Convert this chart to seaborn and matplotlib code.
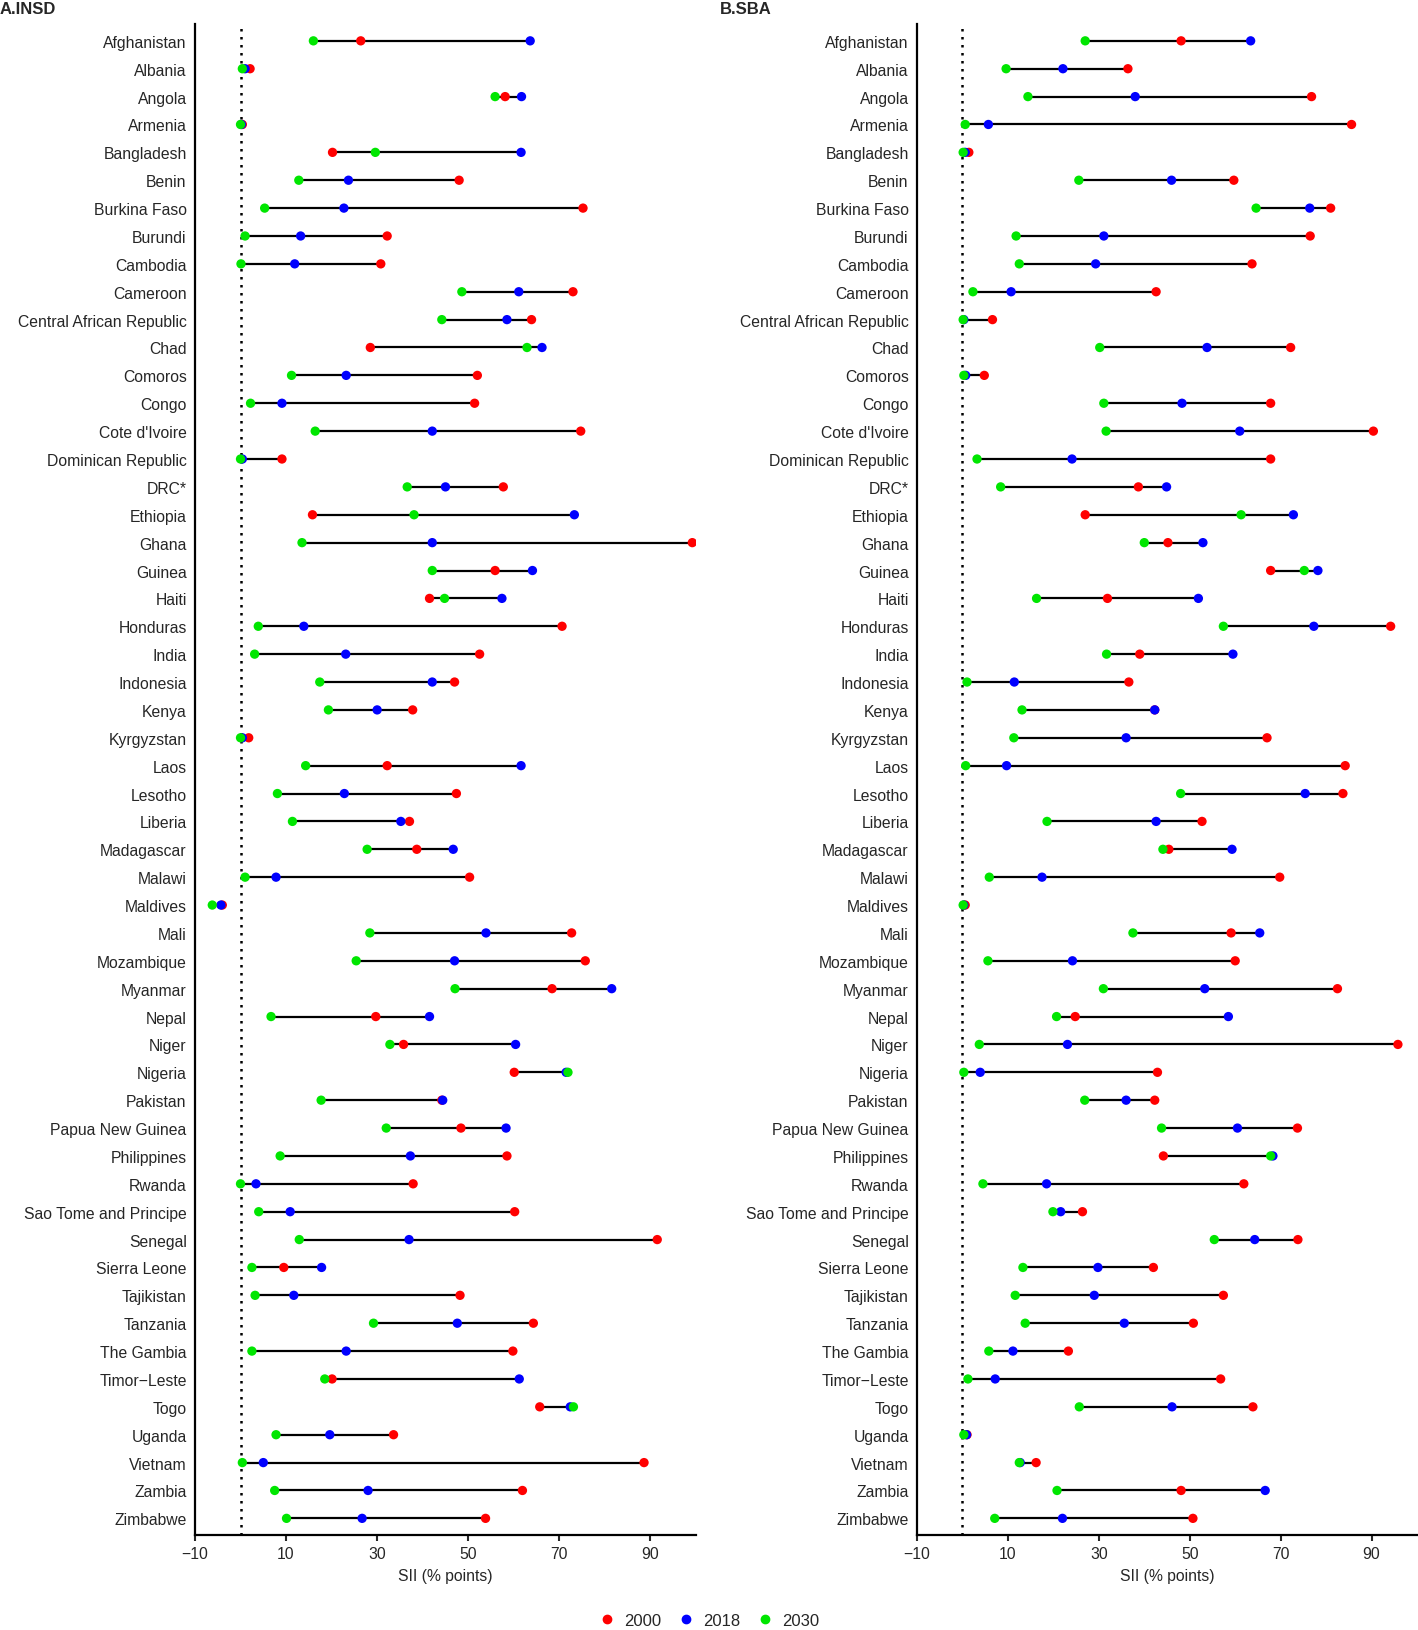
import matplotlib
matplotlib.use('Agg')
import matplotlib.pyplot as plt
from matplotlib.lines import Line2D
import pandas as pd
import seaborn as sns

countries = ['Afghanistan', 'Albania', 'Angola', 'Armenia', 'Bangladesh', 'Benin', 'Burkina Faso',
             'Burundi', 'Cambodia', 'Cameroon', 'Central African Republic', 'Chad', 'Comoros', 'Congo',
             "Cote d'Ivoire", 'Dominican Republic', 'DRC*', 'Ethiopia', 'Ghana', 'Guinea', 'Haiti',
             'Honduras', 'India', 'Indonesia', 'Kenya', 'Kyrgyzstan', 'Laos', 'Lesotho', 'Liberia',
             'Madagascar', 'Malawi', 'Maldives', 'Mali', 'Mozambique', 'Myanmar', 'Nepal', 'Niger',
             'Nigeria', 'Pakistan', 'Papua New Guinea', 'Philippines', 'Rwanda', 'Sao Tome and Principe',
             'Senegal', 'Sierra Leone', 'Tajikistan', 'Tanzania', 'The Gambia', 'Timor\u2212Leste', 'Togo',
             'Uganda', 'Vietnam', 'Zambia', 'Zimbabwe']

# A. INSD
insd_2000 = [26.4, 2.1, 58.1, 0.4, 20.2, 48.0, 75.2, 32.2, 30.8, 73.0, 63.9, 28.5, 52.0, 51.4,
             74.7, 9.1, 57.7, 15.8, 99.2, 55.9, 41.5, 70.6, 52.5, 47.0, 37.8, 1.8, 32.2, 47.4, 37.1,
             38.7, 50.3, -4.0, 72.7, 75.7, 68.4, 29.7, 35.8, 60.1, 44.2, 48.4, 58.5, 37.9, 60.2,
             91.5, 9.5, 48.2, 64.3, 59.8, 20.1, 65.7, 33.6, 88.6, 61.9, 53.8]
insd_2018 = [63.6, 1.0, 61.7, 0.2, 61.6, 23.7, 22.7, 13.2, 11.9, 61.1, 58.5, 66.2, 23.2, 9.1,
             42.1, 0.4, 45.0, 73.3, 42.1, 64.1, 57.4, 13.9, 23.1, 42.1, 30.0, 0.4, 61.6, 22.8, 35.2,
             46.7, 7.8, -4.3, 53.9, 47.0, 81.5, 41.5, 60.4, 71.5, 44.4, 58.3, 37.3, 3.4, 10.9,
             37.0, 17.8, 11.7, 47.6, 23.2, 61.2, 72.4, 19.6, 5.0, 28.0, 26.7]
insd_2030 = [16.0, 0.4, 55.9, 0.0, 29.6, 12.8, 5.3, 1.0, 0.1, 48.6, 44.2, 62.9, 11.2, 2.2,
             16.4, 0.0, 36.6, 38.1, 13.5, 42.1, 44.8, 3.9, 3.1, 17.4, 19.3, 0.0, 14.3, 8.1, 11.4,
             27.8, 1.0, -6.2, 28.4, 25.4, 47.1, 6.7, 32.8, 71.9, 17.7, 32.0, 8.7, 0.0, 4.0,
             12.9, 2.5, 3.2, 29.2, 2.5, 18.5, 73.1, 7.8, 0.4, 7.5, 10.1]

# B. SBA
sba_2000 = [48.1, 36.4, 76.8, 85.6, 1.4, 59.7, 81.0, 76.5, 63.7, 42.6, 6.6, 72.2, 4.8, 67.8,
            90.4, 67.8, 38.7, 27.0, 45.2, 67.8, 31.9, 94.2, 39.0, 36.6, 42.3, 67.0, 84.2, 83.7, 52.7,
            45.4, 69.8, 0.6, 59.1, 60.0, 82.5, 24.8, 95.8, 42.9, 42.3, 73.7, 44.2, 61.9, 26.4,
            73.8, 42.0, 57.4, 50.8, 23.3, 56.8, 63.9, 1.0, 16.2, 48.1, 50.7]
sba_2018 = [63.4, 22.1, 38.0, 5.7, 0.6, 46.0, 76.4, 31.1, 29.3, 10.7, 0.3, 53.8, 0.7, 48.3,
            61.0, 24.1, 44.9, 72.8, 52.9, 78.2, 51.9, 77.3, 59.5, 11.4, 42.3, 36.0, 9.7, 75.4, 42.6,
            59.3, 17.5, 0.3, 65.4, 24.2, 53.3, 58.5, 23.1, 3.9, 36.0, 60.5, 68.3, 18.5, 21.6,
            64.3, 29.8, 29.0, 35.6, 11.1, 7.2, 46.1, 0.9, 12.7, 66.6, 22.0]
sba_2030 = [27.0, 9.6, 14.4, 0.6, 0.15, 25.6, 64.6, 11.8, 12.5, 2.3, 0.15, 30.2, 0.3, 31.1,
            31.6, 3.2, 8.4, 61.3, 40.0, 75.2, 16.3, 57.4, 31.7, 1.0, 13.1, 11.3, 0.7, 48.0, 18.6,
            44.1, 5.9, 0.15, 37.5, 5.6, 31.0, 20.7, 3.7, 0.3, 26.9, 43.8, 67.8, 4.5, 19.9,
            55.4, 13.3, 11.6, 13.8, 5.8, 1.2, 25.7, 0.3, 12.5, 20.8, 7.1]

years = ['2000', '2018', '2030']
colors = {'2000': '#ff0000', '2018': '#0000ff', '2030': '#00e600'}

sns.set_style('white')
plt.rcParams['font.family'] = ['Liberation Sans', 'DejaVu Sans']
plt.rcParams['font.size'] = 11.3


def long_table(v2000, v2018, v2030):
    rows = []
    for year, vals in zip(years, [v2000, v2018, v2030]):
        for i, v in enumerate(vals):
            rows.append({'pos': i, 'country': countries[i], 'year': year, 'SII': v})
    return pd.DataFrame(rows)


def draw(ax, df):
    wide = df.pivot(index='pos', columns='year', values='SII')
    ax.hlines(wide.index, wide.min(axis=1), wide.max(axis=1), color='black', lw=1.6, zorder=1)
    sns.scatterplot(data=df, x='SII', y='pos', hue='year', palette=colors, s=45,
                    linewidth=0, ax=ax, zorder=2, legend=False)
    ax.axvline(0, color='black', ls=(0, (1, 2.2)), lw=1.8, zorder=0)
    ax.set_xlim(-10, 100)
    ax.set_ylim(len(countries) - 0.4, -0.6)
    ax.set_xticks([-10, 10, 30, 50, 70, 90])
    ax.set_xticklabels(['\u221210', '10', '30', '50', '70', '90'])
    ax.set_yticks(range(len(countries)))
    ax.set_yticklabels(countries)
    ax.tick_params(axis='y', length=0, pad=6)
    ax.tick_params(axis='x', length=4, width=1.5, pad=4, direction='out', bottom=True)
    ax.set_xlabel('SII (% points)', labelpad=5)
    ax.set_ylabel('')
    for s in ['top', 'right']:
        ax.spines[s].set_visible(False)
    for s in ['left', 'bottom']:
        ax.spines[s].set_linewidth(1.6)
        ax.spines[s].set_color('black')


fig = plt.figure(figsize=(14.18, 16.31), dpi=100)
axA = fig.add_axes([0.1375, 0.0582, 0.3533, 0.9264])
axB = fig.add_axes([0.6467, 0.0582, 0.3526, 0.9264])

draw(axA, long_table(insd_2000, insd_2018, insd_2030))
draw(axB, long_table(sba_2000, sba_2018, sba_2030))

fig.text(0.0, 0.999, 'A.INSD', ha='left', va='top', fontweight='bold', fontsize=12)
fig.text(0.508, 0.999, 'B.SBA', ha='left', va='top', fontweight='bold', fontsize=12)

handles = [Line2D([], [], ls='', marker='o', color=colors[y], markersize=6) for y in years]
fig.legend(handles, years, ncol=3, frameon=False, loc='center', fontsize=12,
           bbox_to_anchor=(0.5, 0.006), handletextpad=0.5, columnspacing=1.0, handlelength=1.0)

fig.savefig('out.png', dpi=100)
